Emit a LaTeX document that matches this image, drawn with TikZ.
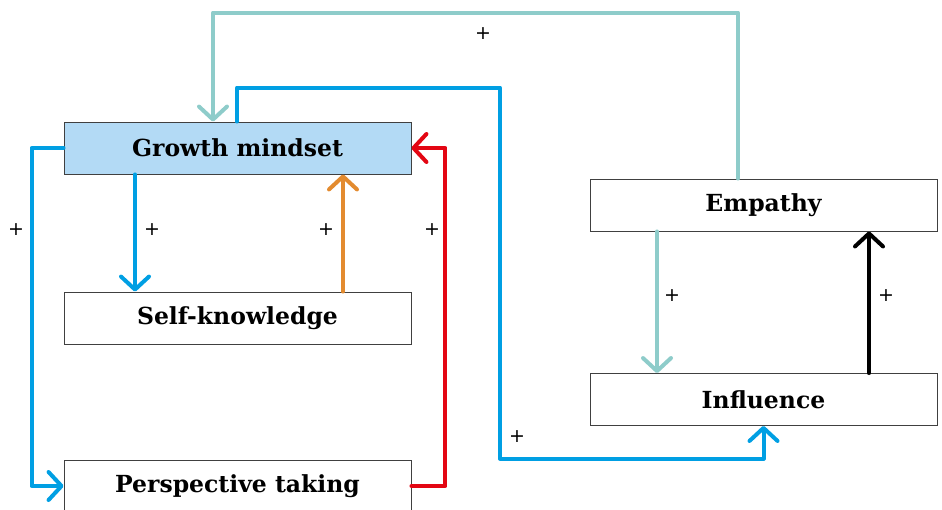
\documentclass[tikz,border=0pt]{standalone}
\usepackage{fontspec}
\setmainfont{DejaVu Serif}
\setsansfont{DejaVu Sans}
\usepackage{xcolor}
\usetikzlibrary{arrows.meta}

\definecolor{loopteal}{HTML}{8ECCCA}
\definecolor{loopblue}{HTML}{009FE3}
\definecolor{looporange}{HTML}{E38B2F}
\definecolor{loopred}{HTML}{E30613}
\definecolor{gmfill}{HTML}{B3DAF5}

\tikzset{
  factor/.style={draw=black!75, line width=0.9pt, minimum width=347pt, minimum height=52pt,
    inner sep=0pt, font=\fontsize{23.5}{26}\selectfont\bfseries},
  link/.style={line width=4pt, line cap=round, line join=round,
    -{Straight Barb[length=13pt,width=28pt,line cap=round,line join=round]}},
  sign/.style={font=\sffamily\fontsize{19}{21}\selectfont}
}

\begin{document}
\begin{tikzpicture}[x=1pt,y=-1pt]
    \useasboundingbox (0,0) rectangle (942,509);

    % Factors
    \node[factor,fill=gmfill] (gm) at (237.5,148) {Growth mindset};
    \node[factor] (sk) at (237.5,318) {Self-knowledge};
    \node[factor] (pt) at (237.5,486) {Perspective taking};
    \node[factor] (emp) at (763.5,205) {Empathy};
    \node[factor] (inf) at (763.5,399.5) {Influence};

    % Links around growth mindset
    \draw[link,loopblue] ([xshift=-102.5pt]gm.south) -- ([xshift=-102.5pt]sk.north);
    \draw[link,looporange] ([xshift=105.5pt]sk.north) -- ([xshift=105.5pt]gm.south);
    \draw[link,loopblue] (gm.west) -- ++(-32,0) |- (pt.west);
    \draw[link,loopred] (pt.east) -- ++(34,0) |- (gm.east);

    % Links to the right side
    \draw[link,loopteal] ([xshift=-25.5pt]emp.north) -- ++(0,-166) -| ([xshift=-24.5pt]gm.north);
    \draw[link,loopblue] ([xshift=-0.5pt]gm.north) -- ++(0,-34) -- ++(263,0) -- ++(0,371) -| (inf.south);
    \draw[link,loopteal] ([xshift=-106.5pt]emp.south) -- ([xshift=-106.5pt]inf.north);
    \draw[link,black] ([xshift=105.5pt]inf.north) -- ([xshift=105.5pt]emp.south);

    % Signs
    \node[sign] (s1) at (483,34) {+};
    \node[sign] (s2) at (517,437) {+};
    \node[sign] (s3) at (16,230) {+};
    \node[sign] (s4) at (152,230) {+};
    \node[sign] (s5) at (326,230) {+};
    \node[sign] (s6) at (432,230) {+};
    \node[sign] (s7) at (672,296) {+};
    \node[sign] (s8) at (886,296) {+};
\end{tikzpicture}
\end{document}
